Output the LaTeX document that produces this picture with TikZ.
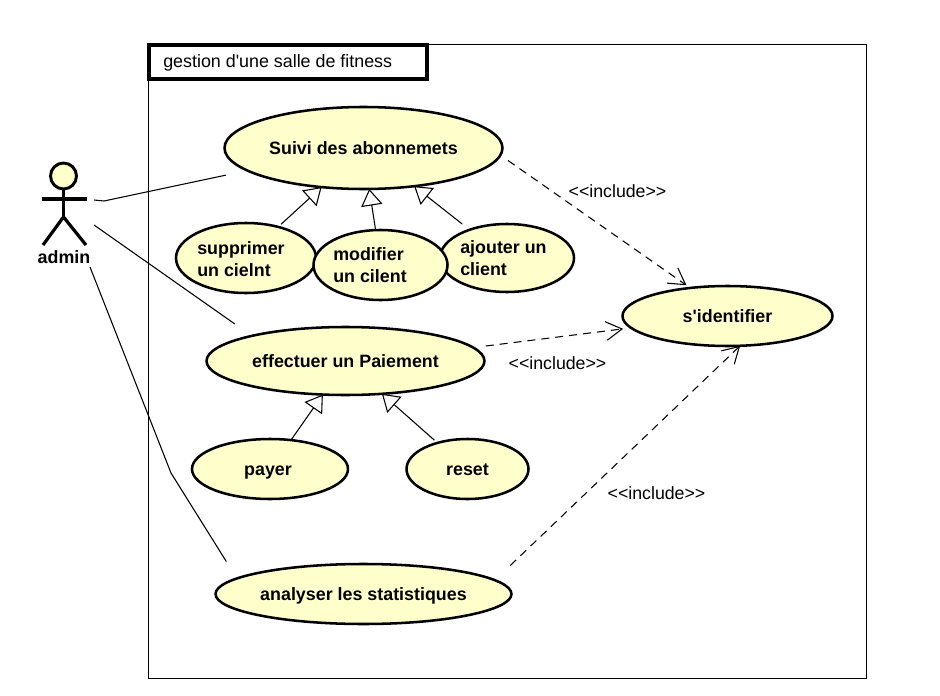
\documentclass[tikz,border=0pt]{standalone}
\usepackage{fontspec}
\setmainfont{Liberation Sans}
\newfontfamily\plainfont{Liberation Sans}
\usetikzlibrary{shapes.geometric,arrows.meta}
\definecolor{ucfill}{RGB}{255,255,204}
\newcommand{\apos}{{\plainfont\char"27}}
\tikzset{
  usecase/.style={ellipse,draw=black,fill=ucfill,line width=1.9pt,inner sep=0pt,outer sep=0pt,text height=1em,text depth=0pt,font=\bfseries\fontsize{13.4}{15}\selectfont},
  uctext/.style={anchor=west,align=left,inner sep=0pt,font=\bfseries\fontsize{13.4}{16.5}\selectfont},
  assoc/.style={draw=black,line width=.8pt},
  genarrow/.style={draw=black,line width=.8pt,-{Triangle[open,fill=white,length=12.5pt,width=16pt,line width=.8pt]}},
  incl/.style={draw=black,line width=.8pt,dash pattern=on 6pt off 4.5pt,-{Straight Barb[length=12pt,width=14pt,line width=.8pt]}},
  incllabel/.style={inner sep=0pt,font=\fontsize{13.3}{15}\selectfont},
  actorline/.style={draw=black,line width=2.4pt}
}
\begin{document}
\begin{tikzpicture}[x=.75pt,y=-.75pt]
\useasboundingbox (0,0) rectangle (940,696);
\fill[white] (0,0) rectangle (940,696);
% frame
\node[draw=black,line width=.75pt,minimum width=538.5pt,minimum height=475.5pt,inner sep=0pt,outer sep=0pt,anchor=north west] (frame) at (148.5,44.5) {};
\node[draw=black,line width=2.3pt,minimum width=208.5pt,minimum height=25.5pt,inner sep=0pt,outer sep=0pt,anchor=north west] (title) at (149,45) {};
\node[inner sep=0pt,anchor=west,font=\fontsize{13.4}{15}\selectfont] (titletext) at (163,63) {gestion d\apos une salle de fitness};
% use cases
\node[usecase,minimum width=208.5pt,minimum height=61.5pt] (suivi) at (363.5,148) {Suivi des abonnemets};
\node[usecase,minimum width=100.5pt,minimum height=51pt] (ajouter) at (507,258) {};
\node[usecase,minimum width=105pt,minimum height=52.5pt] (supprimer) at (246,258) {};
\node[usecase,minimum width=100.5pt,minimum height=52.5pt] (modifier) at (380.5,265) {};
\node[uctext] (supprimertext) at (197,259) {supprimer\\un cielnt};
\node[uctext] (modifiertext) at (333,265.5) {modifier\\un cilent};
\node[uctext] (ajoutertext) at (460,258.5) {ajouter un\\client};
\node[usecase,minimum width=157.5pt,minimum height=45pt] (identifier) at (727.5,316) {s\apos identifier};
\node[usecase,minimum width=208.5pt,minimum height=51pt] (paiement) at (345.5,361) {effectuer un Paiement};
\node[usecase,minimum width=117pt,minimum height=45pt] (payer) at (270,469) {\hspace*{-3pt}payer};
\node[usecase,minimum width=91.5pt,minimum height=45pt] (reset) at (467.5,469) {reset};
\node[usecase,minimum width=222pt,minimum height=45pt] (analyser) at (363.5,594) {analyser les statistiques};
% actor
\node[circle,draw=black,fill=ucfill,line width=2.2pt,minimum size=19.5pt,inner sep=0pt,outer sep=0pt] (head) at (63.5,176) {};
\coordinate (hip) at (63.5,217);
\coordinate (armL) at (42,199);
\coordinate (armR) at (87,199);
\coordinate (legL) at (43,245);
\coordinate (legR) at (86,245);
\draw[actorline] (head.south) -- (hip);
\draw[actorline] (armL) -- (armR);
\draw[actorline] (legL) -- (hip) -- (legR);
\node[inner sep=0pt,font=\bfseries\fontsize{13.4}{15}\selectfont] (admin) at (64,257) {admin};
% associations
\coordinate (a1) at (94,200);
\coordinate (a1b) at (104,201);
\coordinate (a2) at (94,225);
\coordinate (a3) at (90,267);
\coordinate (a3b) at (171,473);
\draw[assoc,shorten >=16.5pt] (a1) -- (a1b) -- (suivi.191);
\draw[assoc,shorten >=15.5pt] (a2) -- (paiement.165.9);
\draw[assoc,shorten >=15pt] (a3) -- (a3b) -- (analyser.173.6);
% generalizations
\draw[genarrow,shorten <=3pt] (supprimer.44) -- (suivi.223);
\draw[genarrow,shorten <=.7pt] (modifier.98) -- (suivi.278);
\draw[genarrow,shorten <=7pt] (ajouter.143) -- (suivi.323);
\draw[genarrow] (payer.54) -- (paiement.236.7);
\draw[genarrow,shorten <=3pt] (reset.139) -- (paiement.318);
% includes
\draw[incl,shorten <=7pt,shorten >=3.5pt] (suivi.357) -- (identifier.143);
\draw[incl,shorten <=9.5pt,shorten >=6pt] (paiement.6.8) -- (identifier.187.1);
\draw[incl,shorten <=16pt] (analyser.6) -- (identifier.293.6);
\node[incllabel] (l1) at (617.5,191) {<{}<include>{}>};
\node[incllabel] (l2) at (557.5,363) {<{}<include>{}>};
\node[incllabel] (l3) at (656.5,493) {<{}<include>{}>};
\end{tikzpicture}
\end{document}
